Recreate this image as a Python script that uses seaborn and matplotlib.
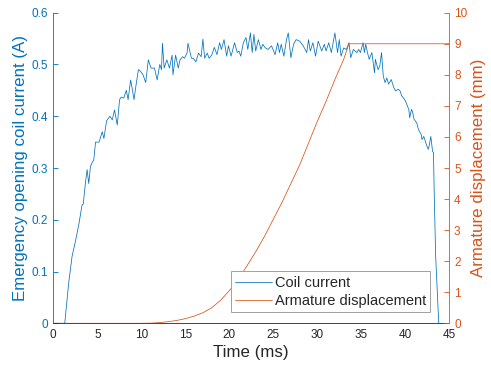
import numpy as np
import pandas as pd
import matplotlib
matplotlib.use("Agg")
import matplotlib.pyplot as plt
import seaborn as sns

# %%
# Values

# Coil current (A) vs time (ms)
current_t = [0, 1.3, 1.75, 2.13, 2.51, 2.89, 3.27, 3.4, 3.65, 3.84, 4.03, 4.22, 4.4, 4.6,
             4.8, 5.2, 5.56, 5.75, 6.05, 6.43, 6.7, 6.96, 7.27, 7.53, 7.72, 8.0, 8.3, 8.5,
             8.79, 9.0, 9.17, 9.4, 9.67, 9.9, 10.2, 10.5, 10.8, 11.1, 11.5, 11.8, 12.1, 12.3,
             12.4, 12.6, 12.9, 13.2, 13.5, 13.6, 13.9, 14.2, 14.4, 14.7, 14.9, 15.2, 15.3,
             15.7, 15.9, 16.2, 16.5, 16.8, 17.0, 17.2, 17.5, 17.7, 18.0, 18.3, 18.6, 18.9,
             19.1, 19.4, 19.7, 19.9, 20.2, 20.6, 20.9, 21.1, 21.3, 21.6, 21.9, 22.1, 22.4,
             22.6, 22.8, 23.0, 23.3, 23.6, 23.8, 24.1, 24.4, 24.8, 25.2, 25.5, 25.7, 25.9,
             26.2, 26.5, 26.7, 27.0, 27.3, 27.6, 28.0, 28.4, 28.8, 29.0, 29.2, 29.5, 29.8,
             30.1, 30.5, 30.8, 31.0, 31.3, 31.6, 32.0, 32.3, 32.5, 32.7, 33.0, 33.3, 33.6,
             33.8, 34.1, 34.5, 34.7, 34.9, 35.2, 35.35, 35.5, 35.7, 35.9, 36.2, 36.5, 36.6,
             36.9, 37.1, 37.3, 37.5, 37.7, 37.9, 38.1, 38.4, 38.7, 38.9, 39.2, 39.4, 39.6,
             39.9, 40.0, 40.4, 40.5, 40.7, 40.8, 41.0, 41.3, 41.5, 41.8, 41.9, 42.1, 42.4,
             42.6, 42.7, 42.9, 43.1, 43.2, 43.3, 43.45, 43.8, 44.0]
current_a = [0, 0, 0.078, 0.129, 0.158, 0.19, 0.229, 0.23, 0.271, 0.297, 0.27, 0.303, 0.31, 0.316,
             0.35, 0.35, 0.37, 0.357, 0.391, 0.40, 0.393, 0.412, 0.383, 0.432, 0.437, 0.435, 0.45, 0.432,
             0.47, 0.45, 0.432, 0.46, 0.49, 0.487, 0.48, 0.465, 0.509, 0.493, 0.493, 0.47, 0.5, 0.49,
             0.541, 0.493, 0.509, 0.493, 0.518, 0.48, 0.518, 0.493, 0.509, 0.515, 0.512, 0.522, 0.541,
             0.512, 0.512, 0.505, 0.522, 0.515, 0.549, 0.512, 0.522, 0.512, 0.518, 0.533, 0.519, 0.542,
             0.529, 0.548, 0.516, 0.536, 0.516, 0.542, 0.523, 0.526, 0.516, 0.542, 0.552, 0.529, 0.561,
             0.523, 0.558, 0.526, 0.548, 0.529, 0.539, 0.532, 0.529, 0.536, 0.519, 0.542, 0.523, 0.539,
             0.516, 0.548, 0.561, 0.513, 0.539, 0.548, 0.545, 0.536, 0.523, 0.548, 0.526, 0.542, 0.516,
             0.545, 0.526, 0.539, 0.526, 0.542, 0.523, 0.561, 0.523, 0.548, 0.516, 0.532, 0.529, 0.542,
             0.513, 0.529, 0.523, 0.529, 0.523, 0.542, 0.523, 0.539, 0.523, 0.510, 0.523, 0.484, 0.510,
             0.490, 0.497, 0.523, 0.477, 0.465, 0.474, 0.462, 0.471, 0.455, 0.449, 0.452, 0.449, 0.439,
             0.433, 0.430, 0.413, 0.397, 0.413, 0.410, 0.394, 0.387, 0.374, 0.365, 0.355, 0.361, 0.345,
             0.336, 0.342, 0.361, 0.332, 0.330, 0.239, 0.13, 0, 0]

# Armature displacement (mm) vs time (ms)
disp_t = [0, 10, 11, 12, 13, 14, 15, 16, 17, 18, 19, 20, 21, 22, 23, 24, 25, 26, 27,
          28, 29, 30, 31, 32, 33, 33.6, 45]
disp_mm = [0, 0, 0.005, 0.02, 0.05, 0.09, 0.15, 0.23, 0.34, 0.5, 0.74, 1.05, 1.4, 1.85, 2.3,
           2.8, 3.35, 3.9, 4.5, 5.1, 5.8, 6.5, 7.15, 7.85, 8.5, 9.0, 9.0]

# %%
blue = "#0072BD"
orange = "#D95319"
dark = "#262626"

sns.set_style("white")
plt.rcParams['font.family'] = ['Liberation Sans', 'DejaVu Sans']

current_df = pd.DataFrame({"t": current_t, "i": current_a})
disp_df = pd.DataFrame({"t": disp_t, "d": disp_mm})

fig = plt.figure(figsize=(4.91, 3.66), dpi=100)
ax = fig.add_axes([53.3/491, 1 - 323.3/366, 396/491, 310.6/366])
ax2 = ax.twinx()

sns.lineplot(data=current_df, x="t", y="i", ax=ax, color=blue, lw=0.55,
             estimator=None, label="Coil current", legend=False)
sns.lineplot(data=disp_df, x="t", y="d", ax=ax2, color=orange, lw=0.55,
             estimator=None, label="Armature displacement", legend=False)

ax.set_xlim(0, 45)
ax.set_ylim(0, 0.6)
ax2.set_ylim(0, 10)
ax.set_xticks(range(0, 46, 5))
ax.set_yticks(np.arange(0, 0.61, 0.1))
ax2.set_yticks(range(0, 11))
ax.yaxis.set_major_formatter(matplotlib.ticker.FuncFormatter(lambda v, p: "0" if v == 0 else f"{v:.1f}"))

for s in ["top", "right"]:
    ax.spines[s].set_visible(False)
for s in ["top", "left", "bottom"]:
    ax2.spines[s].set_visible(False)
ax.spines["left"].set_color(blue)
ax.spines["bottom"].set_color(dark)
ax2.spines["right"].set_color(orange)
for sp in [ax.spines["left"], ax.spines["bottom"], ax2.spines["right"]]:
    sp.set_linewidth(0.6)

ax.tick_params(axis="x", direction="in", length=3.6, width=0.6, colors=dark, labelsize=8.5, pad=4)
ax.tick_params(axis="y", direction="in", length=3.6, width=0.6, colors=blue, labelsize=8.5, pad=3.6)
ax2.tick_params(axis="y", direction="in", length=3.6, width=0.6, colors=orange, labelsize=8.5, pad=3.4)

ax.set_xlabel("Time (ms)", fontsize=12.2, color=dark, labelpad=3)
ax.set_ylabel("Emergency opening coil current (A)", fontsize=12.2, color=blue, labelpad=3)
ax2.set_ylabel("Armature displacement (mm)", fontsize=12.2, color=orange, labelpad=3)

h1, l1 = ax.get_legend_handles_labels()
h2, l2 = ax2.get_legend_handles_labels()
leg = ax2.legend(h1 + h2, l1 + l2, loc="lower right", bbox_to_anchor=(0.952, 0.035),
                 borderaxespad=0, fontsize=10.5, frameon=True, fancybox=False,
                 edgecolor="#a0a0a0", framealpha=1, handlelength=2.5,
                 borderpad=0.3, labelspacing=0.3, handletextpad=0.2)
leg.get_frame().set_linewidth(0.7)

fig.savefig("out.png", dpi=100)
